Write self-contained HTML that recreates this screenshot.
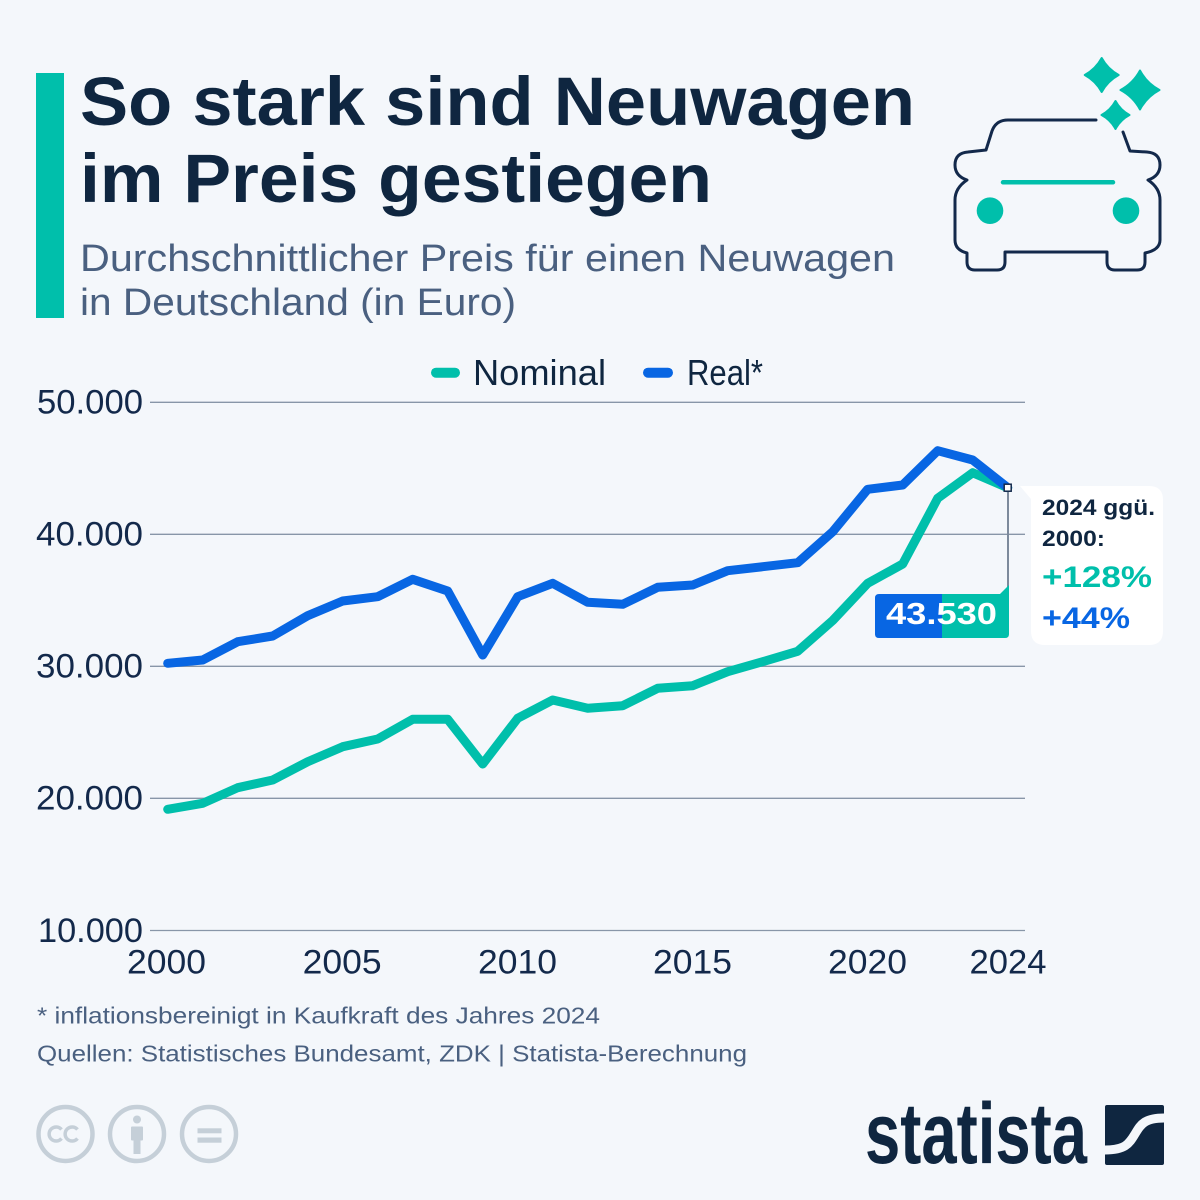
<!DOCTYPE html>
<html>
<head>
<meta charset="utf-8">
<style>
html,body{margin:0;padding:0;background:#f4f7fb;}
svg{display:block;}
text{font-family:"Liberation Sans",sans-serif;}
</style>
</head>
<body>
<svg width="1200" height="1200" viewBox="0 0 1200 1200" xmlns="http://www.w3.org/2000/svg">
<rect width="1200" height="1200" fill="#f4f7fb"/>

<!-- header bar -->
<rect x="36" y="73" width="28" height="245" fill="#00bfab"/>

<!-- title -->
<text x="80" y="125" font-size="69" font-weight="bold" fill="#0f2640" textLength="835" lengthAdjust="spacingAndGlyphs">So stark sind Neuwagen</text>
<text x="80" y="202" font-size="69" font-weight="bold" fill="#0f2640" textLength="632" lengthAdjust="spacingAndGlyphs">im Preis gestiegen</text>

<!-- subtitle -->
<text x="80" y="271" font-size="38" fill="#4a6080" textLength="815" lengthAdjust="spacingAndGlyphs">Durchschnittlicher Preis für einen Neuwagen</text>
<text x="80" y="315" font-size="38" fill="#4a6080" textLength="436" lengthAdjust="spacingAndGlyphs">in Deutschland (in Euro)</text>

<!-- car icon -->
<g fill="none" stroke="#13294b" stroke-width="3" stroke-linecap="round" stroke-linejoin="round">
<path d="M1096,120 H1008 Q996,120 992,131 L986,150 L968,152 Q955,153 955,165 Q955,176 967,180 Q955,188 955,200 V240 Q955,250 967,253 V262 Q967,270 975,270 H997 Q1005,270 1005,262 V252 H1107 V262 Q1107,270 1115,270 H1137 Q1145,270 1145,262 V253 Q1160,250 1160,240 V200 Q1160,188 1148,180 Q1160,176 1160,165 Q1160,153 1147,152 L1130,151 L1123,132"/>
</g>
<line x1="1003" y1="182.3" x2="1113" y2="182.3" stroke="#00bfab" stroke-width="4.5" stroke-linecap="round"/>
<circle cx="990" cy="210.7" r="13.3" fill="#00bfab"/>
<circle cx="1126" cy="210.7" r="13.3" fill="#00bfab"/>
<g fill="#00bfab" stroke="#00bfab" stroke-width="2" stroke-linejoin="round">
<path d="M1101.7,58 Q1107.7,69 1118.7,75 Q1107.7,81 1101.7,92 Q1095.7,81 1084.7,75 Q1095.7,69 1101.7,58 Z"/>
<path d="M1140,70.5 Q1146.8,83.2 1159.5,90 Q1146.8,96.8 1140,109.5 Q1133.2,96.8 1120.5,90 Q1133.2,83.2 1140,70.5 Z"/>
<path d="M1115.5,101 Q1120.4,110.1 1129.5,115 Q1120.4,119.9 1115.5,129 Q1110.6,119.9 1101.5,115 Q1110.6,110.1 1115.5,101 Z"/>
</g>

<!-- legend -->
<line x1="436" y1="372.7" x2="455" y2="372.7" stroke="#00bfab" stroke-width="10" stroke-linecap="round"/>
<text x="473" y="385" font-size="36" fill="#0f2640" textLength="133" lengthAdjust="spacingAndGlyphs">Nominal</text>
<line x1="648" y1="372.7" x2="668" y2="372.7" stroke="#0866e3" stroke-width="10" stroke-linecap="round"/>
<text x="687" y="385" font-size="36" fill="#0f2640" textLength="76" lengthAdjust="spacingAndGlyphs">Real*</text>

<!-- gridlines -->
<g stroke="#8896a8" stroke-width="1.3">
<line x1="150" y1="402.3" x2="1025" y2="402.3"/>
<line x1="150" y1="534.3" x2="1025" y2="534.3"/>
<line x1="150" y1="666.3" x2="1025" y2="666.3"/>
<line x1="150" y1="798.3" x2="1025" y2="798.3"/>
<line x1="150" y1="930.5" x2="1025" y2="930.5"/>
</g>

<!-- y labels -->
<g font-size="34" fill="#13294b" text-anchor="end">
<text x="143" y="413.5" textLength="106" lengthAdjust="spacingAndGlyphs">50.000</text>
<text x="143" y="545.5" textLength="107" lengthAdjust="spacingAndGlyphs">40.000</text>
<text x="143" y="677.5" textLength="107" lengthAdjust="spacingAndGlyphs">30.000</text>
<text x="143" y="809.5" textLength="107" lengthAdjust="spacingAndGlyphs">20.000</text>
<text x="143" y="942" textLength="105" lengthAdjust="spacingAndGlyphs">10.000</text>
</g>

<!-- x labels -->
<g font-size="34" fill="#13294b" text-anchor="middle">
<text x="166.5" y="973.5" textLength="79" lengthAdjust="spacingAndGlyphs">2000</text>
<text x="342.2" y="973.5" textLength="79" lengthAdjust="spacingAndGlyphs">2005</text>
<text x="517.5" y="973.5" textLength="79" lengthAdjust="spacingAndGlyphs">2010</text>
<text x="692.5" y="973.5" textLength="79" lengthAdjust="spacingAndGlyphs">2015</text>
<text x="867.5" y="973.5" textLength="79" lengthAdjust="spacingAndGlyphs">2020</text>
<text x="1008" y="973.5" textLength="77" lengthAdjust="spacingAndGlyphs">2024</text>
</g>

<!-- series -->
<polyline fill="none" stroke="#00bfab" stroke-width="9" stroke-linejoin="round" stroke-linecap="round"
points="167.7,809.3 202.7,803.3 237.7,787.7 272.7,780 307.7,761.7 342.7,746.7 377.7,739 412.7,719.3 447.7,719.3 482.7,764 517.7,718.3 552.7,700 587.7,708.3 622.7,705.7 657.7,688.3 692.7,685.7 727.7,671.7 762.7,661.7 797.7,651.3 832.7,620.5 867.7,583.3 902.7,564 937.7,498.3 972.7,472.7 1007.7,487.7"/>
<polyline fill="none" stroke="#0866e3" stroke-width="9" stroke-linejoin="round" stroke-linecap="round"
points="167.7,663.3 202.7,660 237.7,641.7 272.7,636 307.7,615.7 342.7,601 377.7,596.7 412.7,579.3 447.7,591 482.7,655 517.7,596.7 552.7,583.3 587.7,602.3 622.7,604.3 657.7,587.3 692.7,585 727.7,570.7 762.7,566.7 797.7,562.7 832.7,531.7 867.7,489.3 902.7,485 937.7,450.7 972.7,460 1007.7,487.7"/>

<!-- connector & marker -->
<line x1="1008" y1="488" x2="1008" y2="592" stroke="#7d8a9c" stroke-width="2"/>
<rect x="1004.2" y="484.2" width="7" height="7" fill="#ffffff" stroke="#13294b" stroke-width="1.5"/>

<!-- value label -->
<path d="M942.5,594 H879 Q875,594 875,598 V634 Q875,638 879,638 H942.5 Z" fill="#0866e3"/>
<path d="M942,594 H1000 L1009,585 V634 Q1009,638 1005,638 H942 Z" fill="#00bfab"/>
<text x="886" y="624" font-size="31" font-weight="bold" fill="#ffffff" textLength="111" lengthAdjust="spacingAndGlyphs">43.530</text>

<!-- annotation box -->
<path d="M1020,486 H1149 Q1163,486 1163,500 V631 Q1163,645 1149,645 H1045 Q1031,645 1031,631 V499 Z" fill="#ffffff"/>
<text x="1042" y="515" font-size="22" font-weight="bold" fill="#0f2640" textLength="113" lengthAdjust="spacingAndGlyphs">2024 ggü.</text>
<text x="1042" y="546" font-size="22" font-weight="bold" fill="#0f2640" textLength="63" lengthAdjust="spacingAndGlyphs">2000:</text>
<text x="1042" y="587" font-size="30" font-weight="bold" fill="#00bfab" textLength="110" lengthAdjust="spacingAndGlyphs">+128%</text>
<text x="1042" y="628" font-size="30" font-weight="bold" fill="#0866e3" textLength="88" lengthAdjust="spacingAndGlyphs">+44%</text>

<!-- footnotes -->
<text x="37" y="1023.5" font-size="23" fill="#4a6080" textLength="563" lengthAdjust="spacingAndGlyphs">* inflationsbereinigt in Kaufkraft des Jahres 2024</text>
<text x="37" y="1061.5" font-size="23" fill="#4a6080" textLength="710" lengthAdjust="spacingAndGlyphs">Quellen: Statistisches Bundesamt, ZDK | Statista-Berechnung</text>

<!-- CC icons -->
<g fill="none" stroke="#c5cfd8" stroke-width="4.5">
<circle cx="65.5" cy="1134" r="27"/>
<circle cx="137" cy="1134" r="27"/>
<circle cx="209" cy="1134" r="27"/>
<path d="M61.5,1129.5 A7,7 0 1 0 61.5,1138.5" stroke-width="3.5"/>
<path d="M77.5,1129.5 A7,7 0 1 0 77.5,1138.5" stroke-width="3.5"/>
</g>
<g fill="#c5cfd8">
<circle cx="137" cy="1119.5" r="4"/>
<rect x="131" y="1126.5" width="12" height="14" rx="1"/>
<rect x="133.5" y="1139" width="7" height="15"/>
<rect x="197.5" y="1128.3" width="24" height="5"/>
<rect x="197.5" y="1137.5" width="24" height="5.2"/>
</g>

<!-- statista logo -->
<text x="865" y="1163" font-size="86" font-weight="bold" fill="#0f2640" textLength="222" lengthAdjust="spacingAndGlyphs">statista</text>
<rect x="1105" y="1105" width="59" height="60" rx="2" fill="#0f2640"/>
<path d="M1164,1118 C1143,1118 1140,1126 1135,1134 C1129,1144 1125,1150 1105,1150" fill="none" stroke="#f4f7fb" stroke-width="9"/>
</svg>
</body>
</html>
